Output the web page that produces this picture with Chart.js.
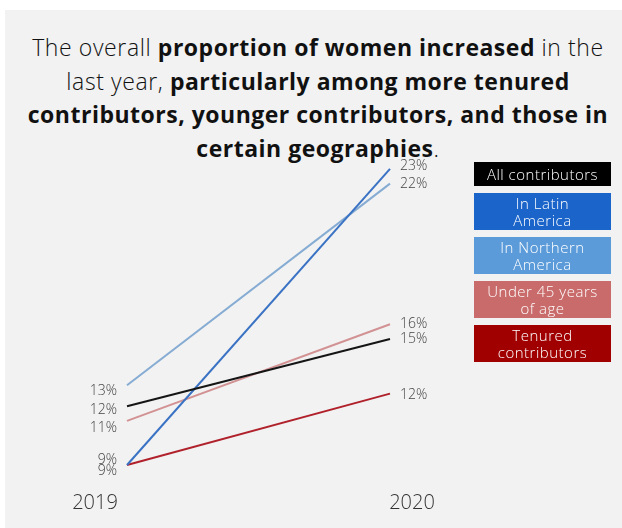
<!DOCTYPE html>
<html>
<head>
<meta charset="utf-8">
<script src="https://cdn.jsdelivr.net/npm/chart.js@4.4.0/dist/chart.umd.min.js"></script>
<style>
  html, body { margin: 0; padding: 0; background: #fff; }
  #panel { position: absolute; left: 5px; top: 10px; width: 617px; height: 518px; background: #f2f2f2; }
  #title {
    position: absolute; left: 0; top: 31px; width: 636px;
    text-align: center; font-family: "Open Sans", sans-serif;
    font-size: 23px; line-height: 33.5px; letter-spacing: 0.6px;
    color: #111; font-weight: 300;
  }
  #title b { font-weight: 700; letter-spacing: 0.5px; }
  #chart { position: absolute; left: 0; top: 0; }
  #legend { position: absolute; left: 474px; top: 162px; width: 137px; margin: 0; padding: 0; list-style: none; }
  #legend li {
    display: flex; align-items: center; justify-content: center;
    height: 37px; color: #fff; text-align: center;
    font-family: "Open Sans", sans-serif; font-weight: 300;
    font-size: 15px; line-height: 17px; letter-spacing: 0.5px;
    margin-bottom: 7px; white-space: pre-line;
  }
  #legend li:first-child { height: 24px; }
</style>
</head>
<body>
<div id="panel"></div>
<div id="title">The overall <b>proportion of women increased</b> in the<br>last year, <b>particularly among more tenured</b><br><b>contributors, younger contributors, and those in</b><br><b>certain geographies</b>.</div>
<canvas id="chart" width="622" height="528"></canvas>
<ul id="legend"></ul>
<script>
// 数据 (share of women, %)
const years = ['2019', '2020'];
const allContributors = [11.8, 15.0];
const latinAmerica = [9.0, 23.1];
const northernAmerica = [12.8, 22.4];
const under45 = [11.1, 15.7];
const tenured = [9.0, 12.4];

const legendLabels = ['All contributors', 'In Latin\nAmerica', 'In Northern\nAmerica', 'Under 45 years\nof age', 'Tenured\ncontributors'];
const boxColors = ['#000000', '#1b64c9', '#5b9bd9', '#c96b6b', '#a10000'];
const lineColors = ['#151515', '#3a72c4', '#86acd3', '#d29294', '#b0212b'];

// label nudges so stacked labels don't collide
const nudgeStart = [4, -5, 6, 7, 6];
const nudgeEnd = [0, -3, 0, 0, 1];
const yearShift = [-32, 22];

const seriesData = [allContributors, latinAmerica, northernAmerica, under45, tenured];

const datasets = seriesData.map((d, i) => ({
  label: legendLabels[i].replace('\n', ' '),
  data: d,
  borderColor: lineColors[i],
  backgroundColor: lineColors[i],
  borderWidth: 2,
  pointRadius: 0,
  tension: 0
}));

const slopeLabels = {
  id: 'slopeLabels',
  afterDatasetsDraw(chart) {
    const ctx = chart.ctx;
    const xs = chart.scales.x;
    ctx.save();
    ctx.fillStyle = '#444';
    ctx.font = '300 14px "Open Sans"';
    ctx.textBaseline = 'middle';
    chart.data.datasets.forEach((ds, i) => {
      const meta = chart.getDatasetMeta(i);
      const p0 = meta.data[0], p1 = meta.data[1];
      ctx.textAlign = 'right';
      ctx.fillText(Math.round(ds.data[0]) + '%', p0.x - 10, p0.y + nudgeStart[i]);
      ctx.textAlign = 'left';
      ctx.fillText(Math.round(ds.data[1]) + '%', p1.x + 10, p1.y + nudgeEnd[i]);
    });
    ctx.font = '300 20px "Open Sans"';
    ctx.fillStyle = '#333';
    ctx.textAlign = 'center';
    years.forEach((y, i) => {
      ctx.fillText(y, xs.getPixelForValue(i) + yearShift[i], 503);
    });
    ctx.restore();
  }
};

new Chart(document.getElementById('chart'), {
  type: 'line',
  data: { labels: years, datasets },
  options: {
    responsive: false,
    animation: false,
    layout: { padding: { left: 127, right: 232, top: 129, bottom: 21 } },
    scales: {
      x: { display: false, offset: false },
      y: { display: false, min: 7, max: 25 }
    },
    plugins: { legend: { display: false }, tooltip: { enabled: false } }
  },
  plugins: [slopeLabels]
});

// legend boxes
const legendEl = document.getElementById('legend');
legendLabels.forEach((t, i) => {
  const li = document.createElement('li');
  li.textContent = t;
  li.style.background = boxColors[i];
  legendEl.appendChild(li);
});
</script>
</body>
</html>
